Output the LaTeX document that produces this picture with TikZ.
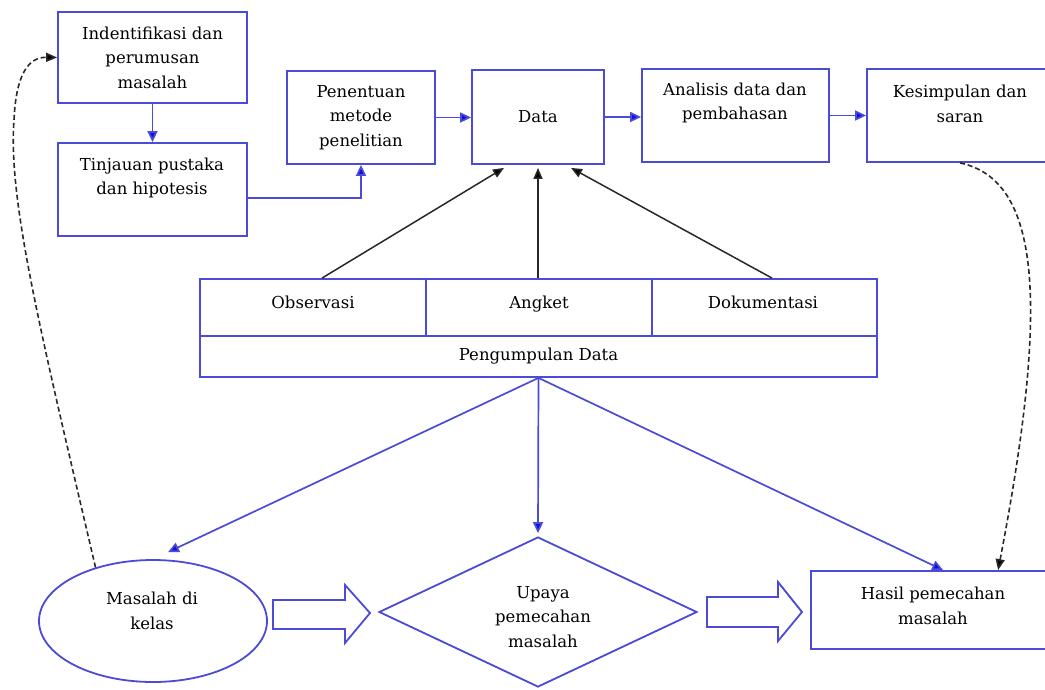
\documentclass[tikz,border=0pt]{standalone}
\usepackage{fontspec}
\setmainfont{DejaVu Serif}
\usetikzlibrary{arrows.meta,shapes.geometric,calc}
\definecolor{boxblue}{RGB}{75,75,215}
\definecolor{tipblue}{RGB}{15,15,225}
\definecolor{dashgray}{RGB}{40,40,40}
\begin{document}
\begin{tikzpicture}[x=1pt,y=-1pt,
  box/.style={draw=boxblue, line width=1.8pt, rectangle, inner sep=0pt, font=\fontsize{16.5}{24.5}\selectfont, align=center, text=black},
  txt/.style={inner sep=0pt, align=center, font=\fontsize{16.5}{24.5}\selectfont, text=black},
  outl/.style={draw=boxblue, line width=1.8pt, line join=miter},
  blu/.style={draw=boxblue, line width=1.7pt, -{Triangle[length=11pt,width=10pt,fill=tipblue]}},
  blk/.style={draw=dashgray, line width=1.5pt, -{Triangle[length=11pt,width=9pt,fill=black]}},
  dsh/.style={draw=dashgray, line width=1.6pt, dash pattern=on 5pt off 3pt, -{Triangle[length=11pt,width=9pt,fill=black]}}]
\useasboundingbox (0,0) rectangle (1045,689);
\clip (0,0) rectangle (1045,689);
\fill[white] (0,0) rectangle (1045,689);

% top row boxes
\node[box, minimum width=189pt, minimum height=91pt] (ident) at (152.5,57.5) {Indentifikasi dan\\perumusan\\masalah};
\node[box, minimum width=189pt, minimum height=93pt] (tinj) at (152.5,189.5) {};
\node[txt] (tinjT) at (152,178) {Tinjauan pustaka\\dan hipotesis};
\node[box, minimum width=148pt, minimum height=93pt] (pen) at (361,117.5) {Penentuan\\metode\\penelitian};
\node[box, minimum width=132pt, minimum height=94pt] (data) at (538,117) {Data};
\node[box, minimum width=187pt, minimum height=93pt] (anal) at (735.5,115.5) {};
\node[txt] (analT) at (735,103) {Analisis data dan\\pembahasan};
\node[box, minimum width=186pt, minimum height=93pt] (kes) at (960,115.5) {};
\node[txt] (kesT) at (960,104) {Kesimpulan dan\\saran};

% table
\node[box, minimum width=226pt, minimum height=57pt] (obs) at (313,307.5) {};
\node[box, minimum width=226pt, minimum height=57pt] (ang) at (539,307.5) {};
\node[box, minimum width=225pt, minimum height=57pt] (dok) at (764.5,307.5) {};
\node[box, minimum width=677pt, minimum height=41pt] (peng) at (538.5,356.5) {Pengumpulan Data};
\node[txt, anchor=base] (obsT) at (313,308) {Observasi};
\node[txt, anchor=base] (angT) at (539,308) {Angket};
\node[txt, anchor=base] (dokT) at (763,308) {Dokumentasi};

% bottom row
\node[draw=boxblue, line width=1.8pt, ellipse, minimum width=228pt, minimum height=122pt, inner sep=0pt] (mas) at (153,621) {};
\node[txt] (masT) at (152,611) {Masalah di\\kelas};
\node[draw=boxblue, line width=1.8pt, diamond, minimum width=318pt, minimum height=150pt, inner sep=0pt] (upaya) at (538,612) {};
\node[txt] (upayaT) at (543,617) {Upaya\\pemecahan\\masalah};
\node[box, minimum width=244pt, minimum height=78pt] (hasil) at (933,610) {};
\node[txt] (hasilT) at (933,606) {Hasil pemecahan\\masalah};

% block arrows
\draw[outl] (273,600) -- (345,600) -- (345,585) -- (370,613) -- (345,643) -- (345,629) -- (273,629) -- cycle;
\draw[outl] (707,597) -- (778,597) -- (778,582) -- (802,612) -- (778,641) -- (778,627) -- (707,627) -- cycle;

% blue connectors
\draw[blu] (ident.south) -- (tinj.north);
\draw[blu] ([yshift=-8.5pt]tinj.east) -| (pen.south);
\draw[blu] (pen.east) -- (pen.east -| data.west);
\draw[blu] (data.east) -- (data.east -| anal.west);
\draw[blu] (anal.east) -- (anal.east -| kes.west);
\draw[blu] (peng.south) -- ([xshift=15pt,yshift=7pt]mas.north);
\draw[blu] (peng.south) -- ([yshift=3pt]upaya.north);
\draw[blu] (peng.south) -- ([xshift=133pt]hasil.north west);

% black connectors
\draw[blk] ([xshift=9pt]obs.north) -- ([xshift=-34pt,yshift=-3pt]data.south);
\draw[blk] (ang.north -| data.south) -- ([yshift=-3pt]data.south);
\draw[blk] ([xshift=7.5pt]dok.north) -- ([xshift=33pt,yshift=-3pt]data.south);

% dashed feedback
\draw[dsh] (kes.south) .. controls (1040,180) and (1050,300) .. ([xshift=188pt]hasil.north west);
\draw[dsh] (mas.137) .. controls (40,330) and (8,200) .. (14,120) .. controls (16,75) and (28,57) .. (ident.west);
\end{tikzpicture}
\end{document}
